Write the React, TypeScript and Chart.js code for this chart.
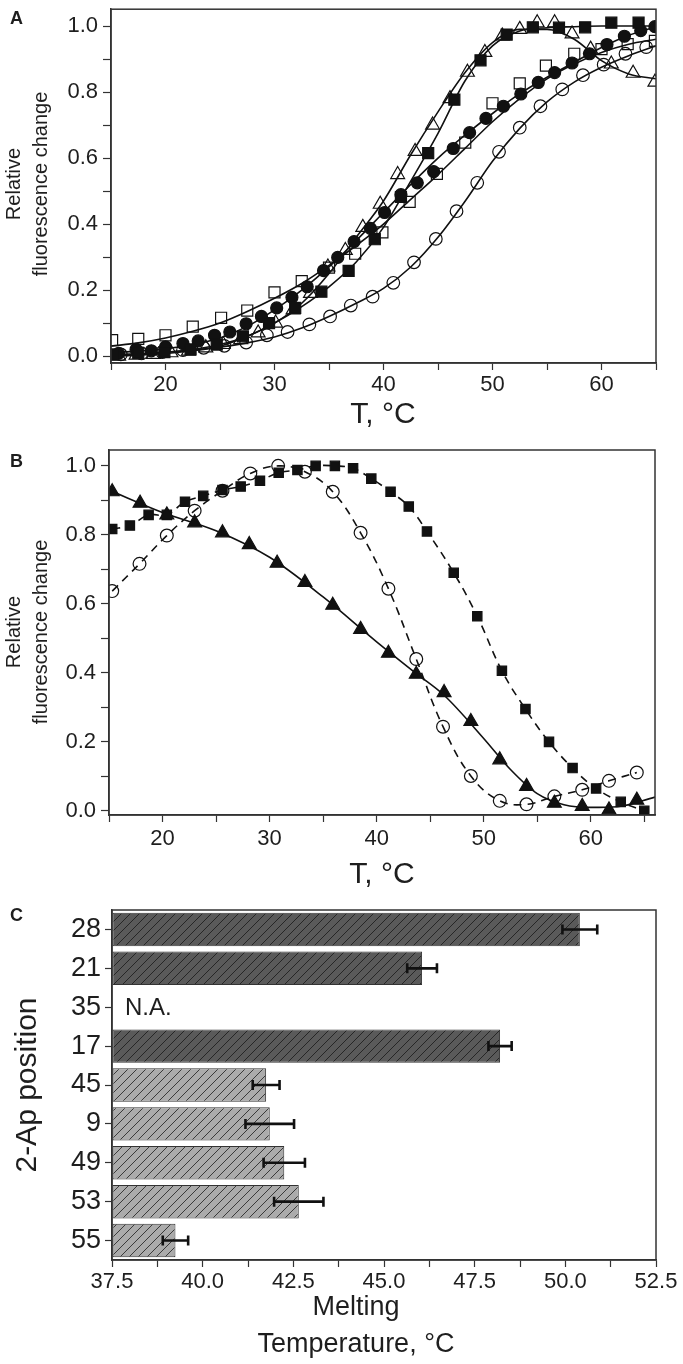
import React, { useEffect, useRef } from 'react';
import { Chart, registerables } from 'chart.js';
Chart.register(...registerables);

const FONT = '"Liberation Sans", Arial, Helvetica, sans-serif';
const INK = '#1e1e1e';

// ---------- Panel A ----------
const aFilledCircleT = [15.7, 17.3, 18.7, 20.0, 21.6, 23.0, 24.5, 25.9, 27.4, 28.8, 30.2, 31.6, 33.0, 34.5, 35.8, 37.3, 38.8, 40.1, 41.6, 43.1, 44.6, 46.4, 47.9, 49.4, 51.0, 52.6, 54.2, 55.7, 57.3, 58.9, 60.5, 62.1, 63.6, 64.9];
const aFilledCircleY = [0.008, 0.020, 0.016, 0.028, 0.038, 0.046, 0.063, 0.073, 0.098, 0.12, 0.146, 0.178, 0.21, 0.259, 0.299, 0.347, 0.387, 0.435, 0.489, 0.525, 0.559, 0.629, 0.677, 0.72, 0.757, 0.794, 0.829, 0.859, 0.888, 0.916, 0.944, 0.969, 0.986, 0.998];

const aFilledSquareT = [15.1, 17.5, 19.9, 22.3, 24.7, 27.1, 29.5, 31.9, 34.3, 36.8, 39.2, 41.6, 44.1, 46.5, 48.9, 51.3, 53.7, 56.1, 58.5, 60.9, 63.4];
const aFilledSquareY = [0.005, 0.01, 0.012, 0.02, 0.035, 0.06, 0.10, 0.146, 0.195, 0.258, 0.354, 0.482, 0.615, 0.777, 0.896, 0.974, 0.996, 0.995, 0.996, 1.01, 1.01];

const aOpenTriangleT = [15.7, 17.3, 18.9, 20.5, 22.1, 23.7, 25.3, 26.9, 28.5, 30.1, 31.7, 33.3, 34.9, 36.5, 38.1, 39.7, 41.3, 42.9, 44.5, 46.1, 47.7, 49.3, 50.9, 52.5, 54.1, 55.7, 57.3, 59.0, 60.9, 62.9, 64.9];
const aOpenTriangleY = [0.0, 0.003, 0.005, 0.01, 0.015, 0.025, 0.035, 0.05, 0.07, 0.10, 0.14, 0.19, 0.27, 0.32, 0.39, 0.46, 0.55, 0.62, 0.70, 0.78, 0.86, 0.92, 0.97, 0.99, 1.01, 1.01, 0.976, 0.93, 0.885, 0.857, 0.83];

const aOpenSquareT = [15.1, 17.5, 20.0, 22.5, 25.1, 27.5, 30.0, 32.5, 35.0, 37.4, 39.9, 42.4, 44.9, 47.5, 50.0, 52.5, 54.9, 57.5, 60.0, 62.4, 64.9];
const aOpenSquareY = [0.048, 0.052, 0.063, 0.089, 0.116, 0.138, 0.193, 0.227, 0.268, 0.31, 0.375, 0.467, 0.552, 0.647, 0.766, 0.826, 0.88, 0.916, 0.93, 0.945, 0.955];

const aOpenCircleT = [15.9, 17.8, 19.7, 21.6, 23.5, 25.4, 27.4, 29.3, 31.2, 33.2, 35.1, 37.0, 39.0, 40.9, 42.8, 44.8, 46.7, 48.6, 50.6, 52.5, 54.4, 56.4, 58.3, 60.2, 62.2, 64.1];
const aOpenCircleY = [0.005, 0.008, 0.012, 0.018, 0.025, 0.031, 0.041, 0.063, 0.073, 0.096, 0.12, 0.153, 0.18, 0.222, 0.284, 0.355, 0.439, 0.525, 0.619, 0.692, 0.757, 0.808, 0.851, 0.883, 0.916, 0.936];

// fitted curves (read at 2.5 °C steps)
const aFitT = [15, 17.5, 20, 22.5, 25, 27.5, 30, 32.5, 35, 37.5, 40, 42.5, 45, 47.5, 50, 52.5, 55, 57.5, 60, 62.5, 65];
const aFitFilledSquare = [0.003, 0.006, 0.011, 0.02, 0.035, 0.06, 0.10, 0.15, 0.21, 0.285, 0.39, 0.53, 0.675, 0.835, 0.94, 0.985, 0.995, 0.998, 1.0, 1.0, 1.0];
const aFitOpenTriangle = [0.0, 0.003, 0.008, 0.016, 0.03, 0.06, 0.10, 0.16, 0.25, 0.36, 0.47, 0.61, 0.74, 0.86, 0.95, 0.99, 0.99, 0.96, 0.895, 0.855, 0.84];
const aFitFilledCircle = [0.01, 0.015, 0.022, 0.035, 0.055, 0.09, 0.14, 0.20, 0.27, 0.35, 0.435, 0.52, 0.60, 0.67, 0.735, 0.795, 0.845, 0.89, 0.935, 0.972, 0.998];
const aFitOpenSquare = [0.03, 0.04, 0.055, 0.075, 0.10, 0.135, 0.175, 0.22, 0.275, 0.335, 0.40, 0.475, 0.55, 0.63, 0.71, 0.78, 0.84, 0.885, 0.92, 0.945, 0.96];
const aFitOpenCircle = [0.004, 0.007, 0.012, 0.018, 0.027, 0.04, 0.058, 0.085, 0.12, 0.16, 0.205, 0.27, 0.36, 0.47, 0.59, 0.69, 0.77, 0.83, 0.875, 0.91, 0.94];

const aXTickValues = [15, 20, 25, 30, 35, 40, 45, 50, 55, 60, 65];
const aYTickValues = [0, 0.1, 0.2, 0.3, 0.4, 0.5, 0.6, 0.7, 0.8, 0.9, 1.0];

// ---------- Panel B ----------
const bTriangleT = [15.3, 17.9, 20.4, 23.0, 25.6, 28.1, 30.7, 33.3, 35.9, 38.5, 41.1, 43.7, 46.3, 48.8, 51.5, 54.0, 56.6, 59.2, 61.7, 64.3];
const bTriangleY = [0.925, 0.892, 0.858, 0.835, 0.806, 0.772, 0.718, 0.662, 0.596, 0.526, 0.457, 0.396, 0.343, 0.259, 0.148, 0.071, 0.022, 0.013, 0.003, 0.031];
const bTriangleFitT = [15, 20, 25, 30, 35, 40, 43.7, 46.3, 50, 52.5, 55, 57.5, 60, 62.5, 66];
const bTriangleFitY = [0.93, 0.865, 0.812, 0.735, 0.62, 0.49, 0.398, 0.335, 0.21, 0.12, 0.05, 0.018, 0.01, 0.012, 0.04];

const bSquareT = [15.3, 16.95, 18.7, 20.4, 22.1, 23.8, 25.6, 27.3, 29.1, 30.85, 32.6, 34.3, 36.1, 37.8, 39.5, 41.3, 43.0, 44.7, 47.2, 49.4, 51.7, 53.9, 56.1, 58.3, 60.5, 62.8, 65.0];
const bSquareY = [0.817, 0.827, 0.858, 0.858, 0.896, 0.913, 0.93, 0.94, 0.957, 0.98, 0.988, 1.0, 1.0, 0.993, 0.963, 0.925, 0.882, 0.81, 0.69, 0.564, 0.406, 0.295, 0.2, 0.124, 0.065, 0.026, 0.0];

const bCircleT = [15.3, 17.85, 20.4, 23.0, 25.6, 28.2, 30.8, 33.3, 35.9, 38.5, 41.1, 43.7, 46.2, 48.8, 51.5, 54.0, 56.6, 59.2, 61.7, 64.3];
const bCircleY = [0.637, 0.716, 0.798, 0.87, 0.928, 0.978, 1.0, 0.983, 0.925, 0.806, 0.644, 0.44, 0.244, 0.101, 0.029, 0.019, 0.042, 0.061, 0.087, 0.111];

const bXTickValues = [15, 20, 25, 30, 35, 40, 45, 50, 55, 60, 65];
const bYTickValues = [0, 0.1, 0.2, 0.3, 0.4, 0.5, 0.6, 0.7, 0.8, 0.9, 1.0];

// ---------- Panel C ----------
const cPositions = ['28', '21', '35', '17', '45', '9', '49', '53', '55'];
const cMelting = [50.4, 46.05, null, 48.2, 41.75, 41.85, 42.25, 42.65, 39.25];
const cError = [0.48, 0.41, null, 0.32, 0.37, 0.67, 0.57, 0.68, 0.35];
const cGroupDark = [true, true, true, true, false, false, false, false, false];
const cXTickValues = [37.5, 38.75, 40, 41.25, 42.5, 43.75, 45, 46.25, 47.5, 48.75, 50, 51.25, 52.5];

function toPts(xs: number[], ys: number[]) {
  return xs.map((x, i) => ({ x, y: ys[i] }));
}

function fixAxis(size: number, horizontal: boolean) {
  return (s: any) => {
    if (horizontal) s.height = size;
    else s.width = size;
    s.paddingTop = 0;
    s.paddingBottom = 0;
    s.paddingLeft = 0;
    s.paddingRight = 0;
  };
}

const framePlugin = {
  id: 'frame',
  afterDraw(chart: any) {
    const { ctx, chartArea: a } = chart;
    ctx.save();
    ctx.strokeStyle = '#333';
    ctx.lineWidth = 1.5;
    ctx.strokeRect(a.left, a.top, a.right - a.left, a.bottom - a.top);
    ctx.restore();
  },
};

type TextItem = { text: string; x: number; y: number; size: number; bold?: boolean; rotate?: boolean; align?: CanvasTextAlign };

function textPlugin(items: TextItem[]) {
  return {
    id: 'texts',
    afterDraw(chart: any) {
      const ctx = chart.ctx;
      items.forEach((it) => {
        ctx.save();
        ctx.fillStyle = INK;
        ctx.font = `${it.bold ? 'bold ' : ''}${it.size}px ${FONT}`;
        ctx.textAlign = it.align || 'center';
        ctx.textBaseline = 'middle';
        ctx.translate(it.x, it.y);
        if (it.rotate) ctx.rotate(-Math.PI / 2);
        ctx.fillText(it.text, 0, 0);
        ctx.restore();
      });
    },
  };
}

function linAxis(min: number, max: number, values: number[], size: number, horizontal: boolean, labelFn: (v: number) => string, fontSize: number, tickLen: number, pad: number) {
  return {
    type: 'linear',
    min,
    max,
    afterBuildTicks: (s: any) => {
      s.ticks = values.map((v) => ({ value: v }));
    },
    afterFit: fixAxis(size, horizontal),
    grid: { drawOnChartArea: false, drawTicks: true, tickLength: tickLen, tickColor: '#333', tickWidth: 1.2 },
    border: { display: true, color: '#333', width: 1.5 },
    ticks: {
      autoSkip: false,
      maxRotation: 0,
      minRotation: 0,
      padding: pad,
      color: INK,
      font: { family: FONT, size: fontSize },
      callback: (v: any) => labelFn(Number(v)),
    },
  };
}

const near = (v: number, step: number) => Math.abs(v / step - Math.round(v / step)) < 1e-6;

function markerSet(xs: number[], ys: number[], style: string, filled: boolean, r: number) {
  return {
    data: toPts(xs, ys),
    showLine: false,
    pointStyle: style,
    pointRadius: r,
    pointBackgroundColor: filled ? '#111' : 'rgba(0,0,0,0)',
    pointBorderColor: '#111',
    pointBorderWidth: 1.2,
    order: 0,
  };
}

function lineSet(xs: number[], ys: number[], dash: number[] = [], monotone = true) {
  return {
    data: toPts(xs, ys),
    showLine: true,
    pointRadius: 0,
    borderColor: '#111',
    borderWidth: 1.6,
    borderDash: dash,
    cubicInterpolationMode: monotone ? 'monotone' : 'default',
    tension: 0.4,
    fill: false,
    order: 1,
  };
}

function makeHatch(bg: string, line: string) {
  const size = 9;
  const c = document.createElement('canvas');
  c.width = size;
  c.height = size;
  const g = c.getContext('2d')!;
  g.fillStyle = bg;
  g.fillRect(0, 0, size, size);
  g.strokeStyle = line;
  g.lineWidth = 1;
  g.beginPath();
  g.moveTo(-1, size + 1);
  g.lineTo(size + 1, -1);
  g.moveTo(-1, 1);
  g.lineTo(1, -1);
  g.moveTo(size - 1, size + 1);
  g.lineTo(size + 1, size - 1);
  g.stroke();
  return g.createPattern(c, 'repeat');
}

function configA(): any {
  return {
    type: 'scatter',
    data: {
      datasets: [
        markerSet(aFilledSquareT, aFilledSquareY, 'rect', true, 7.8),
        markerSet(aOpenTriangleT, aOpenTriangleY, 'triangle', false, 8),
        markerSet(aFilledCircleT, aFilledCircleY, 'circle', true, 6),
        markerSet(aOpenSquareT, aOpenSquareY, 'rect', false, 7.8),
        markerSet(aOpenCircleT, aOpenCircleY, 'circle', false, 6.3),
        lineSet(aFitT, aFitFilledSquare),
        lineSet(aFitT, aFitOpenTriangle),
        lineSet(aFitT, aFitFilledCircle),
        lineSet(aFitT, aFitOpenSquare),
        lineSet(aFitT, aFitOpenCircle),
      ],
    },
    options: {
      animation: false,
      responsive: false,
      events: [],
      layout: { padding: { top: 5, right: 27, left: 0, bottom: 0 } },
      plugins: { legend: { display: false }, tooltip: { enabled: false } },
      scales: {
        x: linAxis(15, 65, aXTickValues, 77, true, (v) => (near(v, 10) ? String(v) : ''), 22, 7, 2),
        y: linAxis(-0.021, 1.051, aYTickValues, 111, false, (v) => (near(v, 0.2) ? v.toFixed(1) : ''), 22, 8, 5),
      },
    },
    plugins: [
      framePlugin,
      textPlugin([
        { text: 'A', x: 10, y: 19, size: 18, bold: true, align: 'left' },
        { text: 'Relative', x: 14, y: 184, size: 20, rotate: true },
        { text: 'fluorescence change', x: 41, y: 184, size: 20, rotate: true },
        { text: 'T, °C', x: 383, y: 415, size: 30 },
      ]),
    ],
  };
}

function configB(): any {
  return {
    type: 'scatter',
    data: {
      datasets: [
        markerSet(bTriangleT, bTriangleY, 'triangle', true, 8),
        markerSet(bSquareT, bSquareY, 'rect', true, 6.6),
        markerSet(bCircleT, bCircleY, 'circle', false, 6.4),
        lineSet(bTriangleFitT, bTriangleFitY),
        lineSet(bSquareT, bSquareY, [8, 6], false),
        lineSet(bCircleT, bCircleY, [8, 6], false),
      ],
    },
    options: {
      animation: false,
      responsive: false,
      events: [],
      layout: { padding: { top: 10, right: 28, left: 0, bottom: 0 } },
      plugins: { legend: { display: false }, tooltip: { enabled: false } },
      scales: {
        x: linAxis(15, 66, bXTickValues, 85, true, (v) => (near(v, 10) ? String(v) : ''), 22, 7, 4),
        y: linAxis(-0.012, 1.046, bYTickValues, 109, false, (v) => (near(v, 0.2) ? v.toFixed(1) : ''), 22, 8, 5),
      },
    },
    plugins: [
      framePlugin,
      textPlugin([
        { text: 'B', x: 10, y: 22, size: 18, bold: true, align: 'left' },
        { text: 'Relative', x: 14, y: 192, size: 20, rotate: true },
        { text: 'fluorescence change', x: 41, y: 192, size: 20, rotate: true },
        { text: 'T, °C', x: 382, y: 435, size: 30 },
      ]),
    ],
  };
}

function configC(): any {
  const dark = makeHatch('#5a5a5a', '#262626');
  const light = makeHatch('#ababab', '#3a3a3a');
  const errPlugin = {
    id: 'errbars',
    afterDatasetsDraw(chart: any) {
      const { ctx, scales } = chart;
      const xs = scales.x;
      const ys = scales.y;
      ctx.save();
      ctx.strokeStyle = '#111';
      ctx.lineWidth = 2.6;
      cMelting.forEach((m, i) => {
        const e = cError[i];
        if (m === null || e === null) return;
        const y = ys.getPixelForValue(i);
        const x1 = xs.getPixelForValue(m - e);
        const x2 = xs.getPixelForValue(m + e);
        ctx.beginPath();
        ctx.moveTo(x1, y);
        ctx.lineTo(x2, y);
        ctx.moveTo(x1, y - 5);
        ctx.lineTo(x1, y + 5);
        ctx.moveTo(x2, y - 5);
        ctx.lineTo(x2, y + 5);
        ctx.stroke();
      });
      ctx.fillStyle = INK;
      ctx.font = `24px ${FONT}`;
      ctx.textAlign = 'left';
      ctx.textBaseline = 'middle';
      cMelting.forEach((m, i) => {
        if (m === null) ctx.fillText('N.A.', xs.left + 13, ys.getPixelForValue(i) + 1);
      });
      ctx.restore();
    },
  };
  return {
    type: 'bar',
    data: {
      labels: cPositions,
      datasets: [
        {
          data: cMelting,
          base: 37.5,
          backgroundColor: cGroupDark.map((d) => (d ? dark : light)),
          borderColor: '#333',
          borderWidth: 1,
          borderSkipped: false,
          barPercentage: 0.86,
          categoryPercentage: 1,
        },
      ],
    },
    options: {
      indexAxis: 'y',
      animation: false,
      responsive: false,
      events: [],
      layout: { padding: { top: 10, right: 27, left: 0, bottom: 0 } },
      plugins: { legend: { display: false }, tooltip: { enabled: false } },
      scales: {
        x: linAxis(37.5, 52.5, cXTickValues, 104, true, (v) => (near(v, 2.5) ? v.toFixed(1) : ''), 22, 7, 2),
        y: {
          type: 'category',
          afterFit: fixAxis(112, false),
          grid: { drawOnChartArea: false, drawTicks: true, tickLength: 7, tickColor: '#333', tickWidth: 1.2, offset: false },
          border: { display: true, color: '#333', width: 1.5 },
          ticks: { autoSkip: false, padding: 4, color: INK, font: { family: FONT, size: 27 } },
        },
      },
    },
    plugins: [
      framePlugin,
      errPlugin,
      textPlugin([
        { text: 'C', x: 10, y: 16, size: 18, bold: true, align: 'left' },
        { text: '2-Ap position', x: 28, y: 185, size: 30, rotate: true },
        { text: 'Melting', x: 356, y: 408, size: 27 },
        { text: 'Temperature, °C', x: 356, y: 445, size: 27 },
      ]),
    ],
  };
}

function Panel({ top, height, make }: { top: number; height: number; make: () => any }) {
  const ref = useRef<HTMLCanvasElement | null>(null);
  useEffect(() => {
    if (!ref.current) return;
    const chart = new Chart(ref.current, make());
    return () => chart.destroy();
  }, []);
  return (
    <canvas
      ref={ref}
      width={683}
      height={height}
      style={{ position: 'absolute', left: 0, top, width: 683, height, display: 'block' }}
    />
  );
}

export default function App() {
  return (
    <div style={{ position: 'absolute', left: 0, top: 0, width: 683, height: 1364, background: '#fff', overflow: 'hidden' }}>
      <Panel top={0} height={440} make={configA} />
      <Panel top={440} height={460} make={configB} />
      <Panel top={900} height={464} make={configC} />
    </div>
  );
}
